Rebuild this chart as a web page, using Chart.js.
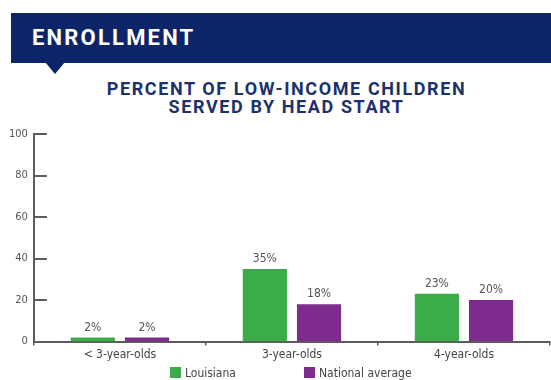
<!DOCTYPE html>
<html>
<head>
<meta charset="utf-8">
<script src="https://cdn.jsdelivr.net/npm/chart.js@4"></script>
<style>
  body { margin: 0; width: 551px; height: 380px; overflow: hidden; background: #fff; position: relative; font-family: Roboto, 'DejaVu Sans', sans-serif; }
  .banner { position: absolute; left: 11px; top: 13px; width: 540px; height: 50px; background: #0c2468; }
  .banner span { position: absolute; left: 21px; top: 13px; color: #fff; font-weight: bold; font-size: 22px; letter-spacing: 2.2px; line-height: 24px; }
  .pointer { position: absolute; left: 45px; top: 62px; width: 0; height: 0; border-left: 10px solid transparent; border-right: 10px solid transparent; border-top: 12px solid #0c2468; }
  .title { position: absolute; left: 0; width: 573px; top: 80px; text-align: center; color: #1c3268; font-weight: bold; font-size: 18px; letter-spacing: 1.6px; line-height: 18px; }
  .chart-wrap { position: absolute; left: 0; top: 120px; width: 551px; height: 260px; }
  .legend { position: absolute; top: 367px; left: 170px; font-family: 'DejaVu Sans Condensed', 'Liberation Sans Narrow', 'Roboto Condensed', Roboto, sans-serif; font-size: 12px; color: #444; }
  .legend .item { position: absolute; white-space: nowrap; line-height: 13px; }
  .legend .box { display: inline-block; width: 11px; height: 11px; vertical-align: top; margin-right: 4px; }
</style>
</head>
<body>
<div class="banner"><span>ENROLLMENT</span></div>
<div class="pointer"></div>
<div class="title">PERCENT OF LOW-INCOME CHILDREN<br>SERVED BY HEAD START</div>
<div class="chart-wrap"><canvas id="chart"></canvas></div>
<div class="legend" id="legend"></div>

<script>
// chart data
const categories = ['< 3-year-olds', '3-year-olds', '4-year-olds'];
const louisiana = [2, 35, 23];
const nationalAverage = [2, 18, 20];
const yTicks = [0, 20, 40, 60, 80, 100];

const GREEN = '#3aad49';
const PURPLE = '#7e2b8e';
const AXIS = '#5c5c5c';
const condensed = "'DejaVu Sans Condensed', 'Liberation Sans Narrow', 'Roboto Condensed', Roboto, sans-serif";

// labels above bars
const valueLabels = {
    id: 'valueLabels',
    afterDatasetsDraw(chart) {
        const ctx = chart.ctx;
        ctx.save();
        ctx.font = '12px ' + condensed;
        ctx.fillStyle = '#555';
        ctx.textAlign = 'center';
        ctx.textBaseline = 'bottom';
        chart.data.datasets.forEach((ds, i) => {
            chart.getDatasetMeta(i).data.forEach((bar, j) => {
                ctx.fillText(ds.data[j] + '%', bar.x, bar.y - 4);
            });
        });
        ctx.restore();
    }
};

// y ticks pointing into the plot
const innerTicks = {
    id: 'innerTicks',
    afterDraw(chart) {
        const ctx = chart.ctx;
        const y = chart.scales.y;
        const left = chart.chartArea.left;
        ctx.save();
        ctx.strokeStyle = AXIS;
        ctx.lineWidth = 2;
        y.ticks.forEach(t => {
            const py = Math.round(y.getPixelForValue(t.value));
            ctx.beginPath();
            ctx.moveTo(left, py);
            ctx.lineTo(left + 13, py);
            ctx.stroke();
        });
        ctx.restore();
    }
};

const chart = new Chart(document.getElementById('chart'), {
    type: 'bar',
    data: {
        labels: categories,
        datasets: [
            { label: 'Louisiana', data: louisiana, backgroundColor: GREEN },
            { label: 'National average', data: nationalAverage, backgroundColor: PURPLE }
        ]
    },
    options: {
        responsive: true,
        maintainAspectRatio: false,
        animation: false,
        categoryPercentage: 0.63,
        barPercentage: 0.815,
        layout: { padding: { top: 14, right: 1, bottom: 16, left: 3 } },
        plugins: {
            legend: { display: false },
            tooltip: { enabled: false }
        },
        scales: {
            x: {
                grid: { drawOnChartArea: false, drawTicks: true, tickLength: 4, color: AXIS, lineWidth: 1.5 },
                border: { color: AXIS, width: 2 },
                ticks: { color: '#444', font: { family: condensed, size: 12 }, padding: 2 }
            },
            y: {
                min: 0,
                max: 100,
                afterBuildTicks(scale) { scale.ticks = yTicks.map(v => ({ value: v })); },
                grid: { display: false, drawTicks: false },
                border: { color: AXIS, width: 2 },
                ticks: { color: '#555', font: { family: condensed, size: 11 }, padding: 6 }
            }
        }
    },
    plugins: [valueLabels, innerTicks]
});

// html legend
const legendEl = document.getElementById('legend');
const legendOffsets = [0, 134];
chart.data.datasets.forEach((ds, i) => {
    const item = document.createElement('div');
    item.className = 'item';
    item.style.left = legendOffsets[i] + 'px';
    item.innerHTML = `<span class="box" style="background:${ds.backgroundColor}"></span>${ds.label}`;
    legendEl.appendChild(item);
});
</script>
</body>
</html>
